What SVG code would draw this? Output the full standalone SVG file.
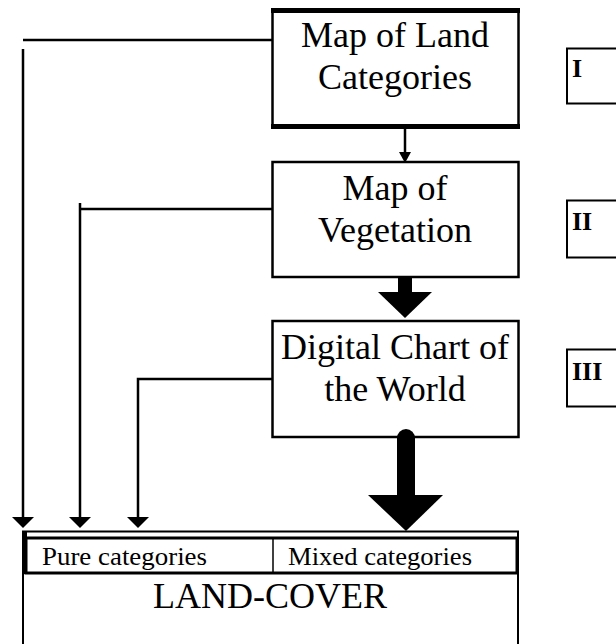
<svg xmlns="http://www.w3.org/2000/svg" width="616" height="644" viewBox="0 0 616 644">
<style>
.box{fill:#fff;stroke:#000;stroke-width:2.5}
.t{font-family:"Liberation Serif","Times New Roman",serif;font-size:36px;fill:#000;text-anchor:middle}
.s{font-family:"Liberation Serif","Times New Roman",serif;font-size:26px;fill:#000}
.r{font-family:"Liberation Serif","Times New Roman",serif;font-size:26px;font-weight:bold;fill:#000}
.ln{fill:none;stroke:#000;stroke-width:2.5}
.ah{fill:#000}
</style>
<rect width="616" height="644" fill="#fff"/>
<g id="node-map-land">
  <rect class="box" x="272.5" y="10" width="246" height="117"/>
  <rect x="271" y="8" width="249" height="5" fill="#000"/>
  <rect x="271" y="124" width="249" height="5" fill="#000"/>
  <text class="t" x="395" y="47">Map of Land</text>
  <text class="t" x="395" y="89">Categories</text>
</g>
<g id="node-map-vegetation">
  <rect class="box" x="272.5" y="162" width="246" height="115"/>
  <text class="t" x="395" y="200">Map of</text>
  <text class="t" x="395" y="242">Vegetation</text>
</g>
<g id="node-dcw">
  <rect class="box" x="272.5" y="321" width="246" height="116"/>
  <text class="t" x="395" y="359">Digital Chart of</text>
  <text class="t" x="395" y="401">the World</text>
</g>
<g id="node-land-cover">
  <rect x="23" y="531.5" width="495" height="130" fill="#fff" stroke="#000" stroke-width="2"/>
  <rect x="26" y="538" width="491" height="35" fill="#fff" stroke="#000" stroke-width="3"/>
  <rect x="22" y="531" width="5" height="43" fill="#000"/>
  <line x1="273" y1="538" x2="273" y2="573" stroke="#000" stroke-width="1.5"/>
  <text class="s" x="42" y="565" textLength="165" lengthAdjust="spacingAndGlyphs">Pure categories</text>
  <text class="s" x="288" y="565" textLength="184" lengthAdjust="spacingAndGlyphs">Mixed categories</text>
  <text class="t" x="270" y="608">LAND-COVER</text>
</g>
<g id="level-I">
  <rect x="567" y="48.5" width="70" height="55" fill="#fff" stroke="#000" stroke-width="2"/>
  <text class="r" x="572" y="77">I</text>
</g>
<g id="level-II">
  <rect x="567" y="200.5" width="70" height="57" fill="#fff" stroke="#000" stroke-width="2"/>
  <text class="r" x="572" y="230">II</text>
</g>
<g id="level-III">
  <rect x="567" y="349.5" width="70" height="57" fill="#fff" stroke="#000" stroke-width="2"/>
  <text class="r" x="572" y="380">III</text>
</g>
<g id="connectors">
  <polyline class="ln" points="272,40 23,40"/>
  <line class="ln" x1="23" y1="49" x2="23" y2="520"/>
  <polygon class="ah" points="12,517 34,517 23,528"/>
  <polyline class="ln" points="272,209 80,209"/>
  <line class="ln" x1="80" y1="203" x2="80" y2="520"/>
  <polygon class="ah" points="69,517 91,517 80,528"/>
  <polyline class="ln" points="272,379 138,379 138,520"/>
  <polygon class="ah" points="127,517 149,517 138,528"/>
  <line class="ln" x1="405" y1="128" x2="405" y2="154"/>
  <polygon class="ah" points="399,152 411,152 405,163"/>
  <rect x="398" y="277" width="14" height="17" fill="#000"/>
  <polygon class="ah" points="378,292 432,292 405,318"/>
  <path d="M397,438 L397,496 L415,496 L415,438 A9,9 0 0 0 397,438 Z" fill="#000"/>
  <polygon class="ah" points="368,495 443,495 406,531"/>
</g>
</svg>
